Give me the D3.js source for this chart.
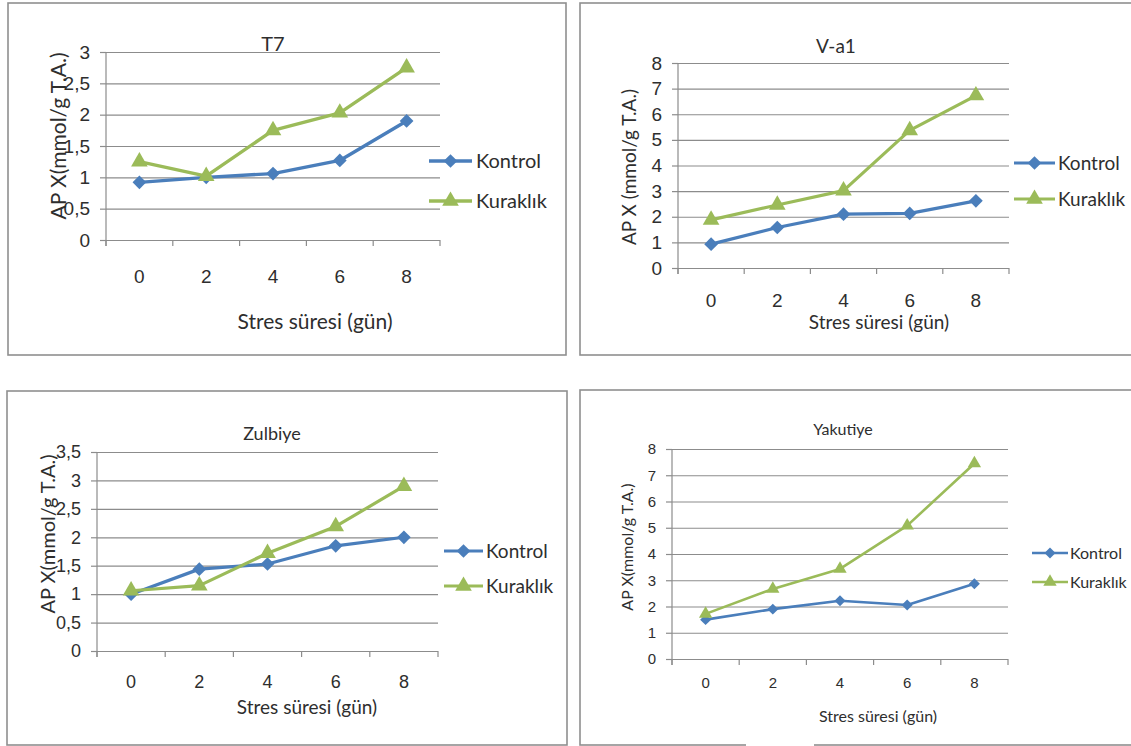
<!DOCTYPE html>
<html lang="tr">
<head>
<meta charset="utf-8">
<script src="https://d3js.org/d3.v7.min.js"></script>
<style>
  body { margin: 0; background: #fff; }
  svg { display: block; font-family: Lato, "Open Sans", sans-serif; }
  .grid line { stroke: #8c8c8c; stroke-width: 1.2; }
  .grid path { display: none; }
  .yax path, .xax path { display: none; }
  .yax line, .xtick { stroke: #8c8c8c; stroke-width: 1.2; }
  text { fill: #2e2e2e; }
</style>
</head>
<body>
<script>
// stres suresi (gun)
var days = ["0", "2", "4", "6", "8"];
var seriesNames = ["Kontrol", "Kuraklık"];

var t7Kontrol = [0.92, 1.0, 1.06, 1.27, 1.9];
var t7Kuraklik = [1.25, 1.02, 1.75, 2.03, 2.75];
var va1Kontrol = [0.93, 1.58, 2.1, 2.13, 2.62];
var va1Kuraklik = [1.88, 2.46, 3.02, 5.37, 6.73];
var zulbiyeKontrol = [1.0, 1.44, 1.53, 1.85, 2.0];
var zulbiyeKuraklik = [1.06, 1.15, 1.72, 2.19, 2.9];
var yakutiyeKontrol = [1.5, 1.9, 2.22, 2.06, 2.87];
var yakutiyeKuraklik = [1.72, 2.67, 3.43, 5.08, 7.45];

var titles = ["T7", "V-a1", "Zulbiye", "Yakutiye"];
var yLabels = ["AP X(mmol/g T.A.)", "AP X (mmol/g T.A.)", "AP X(mmol/g T.A.)", "AP X(mmol/g T.A.)"];
var yTicks05to3 = [0, 0.5, 1, 1.5, 2, 2.5, 3];
var yTicks05to35 = [0, 0.5, 1, 1.5, 2, 2.5, 3, 3.5];
var yTicks1to8 = [0, 1, 2, 3, 4, 5, 6, 7, 8];
var xTitle = "Stres süresi (gün)";

var colors = ["#4a7ebb", "#9bbb59"];

var charts = [
  { kontrol: t7Kontrol, kuraklik: t7Kuraklik, ticks: yTicks05to3 },
  { kontrol: va1Kontrol, kuraklik: va1Kuraklik, ticks: yTicks1to8 },
  { kontrol: zulbiyeKontrol, kuraklik: zulbiyeKuraklik, ticks: yTicks05to35 },
  { kontrol: yakutiyeKontrol, kuraklik: yakutiyeKuraklik, ticks: yTicks1to8 }
];

// where each panel sits on the page
var layout = [
  { box: [8, 3, 558, 352], plot: [106, 52, 440, 240], title: [273, 44, 20], tick: 19, xLabY: 276,
    xTitle: [315, 322, 21], yTitle: [59, 136, 21], legend: [429, 472, 476, 161, 201, 20], lw: 3.4, ms: 1 },
  { box: [580, 3, 560, 352], plot: [678, 63, 1009, 268], title: [836, 46, 19], tick: 19, xLabY: 300,
    xTitle: [879, 322, 19], yTitle: [629, 167, 19], legend: [1014, 1055, 1058, 163, 199, 19], lw: 3.2, ms: 1 },
  { box: [7, 391, 560, 354], plot: [97, 452, 438, 651], title: [272, 434, 18], tick: 18, xLabY: 682,
    xTitle: [307, 707, 19], yTitle: [48, 534, 20], legend: [444, 483, 486, 551, 586, 19], lw: 3.2, ms: 1 },
  { box: [580, 390, 560, 355], plot: [672, 449, 1008, 659], title: [843, 429, 16], tick: 15, xLabY: 683,
    xTitle: [878, 716, 16], yTitle: [627, 547, 16], legend: [1032, 1068, 1070, 553, 582, 16], lw: 2.6, ms: 0.8 }
];

var svg = d3.select("body").append("svg")
    .attr("width", 1131)
    .attr("height", 746);

var comma = function(v) { return String(v).replace(".", ","); };

function marker(i, scale) {
  if (i == 0) return d3.symbol().type(d3.symbolDiamond2).size(120 * scale * scale)();
  return d3.symbol().type(d3.symbolTriangle).size(120 * scale * scale)();
}

charts.forEach(function(c, k) {
  var L = layout[k];
  var g = svg.append("g");

  // panel frame
  g.append("rect")
    .attr("x", L.box[0]).attr("y", L.box[1])
    .attr("width", L.box[2]).attr("height", L.box[3])
    .attr("fill", "none").attr("stroke", "#8f8f8f").attr("stroke-width", 1.6);

  var x = d3.scaleBand().domain(days).range([L.plot[0], L.plot[2]]);
  var y = d3.scaleLinear().domain([0, d3.max(c.ticks)]).range([L.plot[3], L.plot[1]]);
  var w = L.plot[2] - L.plot[0];

  g.append("g").attr("class", "grid")
    .attr("transform", "translate(" + L.plot[0] + ",0)")
    .call(d3.axisLeft(y).tickValues(c.ticks).tickSize(-w).tickFormat(""));

  var ya = g.append("g").attr("class", "yax")
    .attr("transform", "translate(" + L.plot[0] + ",0)")
    .call(d3.axisLeft(y).tickValues(c.ticks).tickSize(6).tickPadding(10).tickFormat(comma));
  ya.selectAll("text").attr("font-size", L.tick).attr("font-family", null).attr("fill", "#2e2e2e");

  // vertical axis line
  g.append("line").attr("class", "xtick")
    .attr("x1", L.plot[0]).attr("x2", L.plot[0])
    .attr("y1", y.range()[1]).attr("y2", y.range()[0] + 6);

  var xa = g.append("g").attr("class", "xax")
    .attr("transform", "translate(0," + L.plot[3] + ")")
    .call(d3.axisBottom(x).tickSize(0));
  xa.selectAll("text")
    .attr("y", L.xLabY - L.plot[3]).attr("dy", "0.35em")
    .attr("font-size", L.tick).attr("font-family", null).attr("fill", "#2e2e2e");

  // tick marks on category boundaries
  var bounds = days.map(function(d) { return x(d); }).concat([x.range()[1]]);
  g.selectAll(".xtick.b").data(bounds).enter().append("line")
    .attr("class", "xtick b")
    .attr("x1", function(d) { return d; }).attr("x2", function(d) { return d; })
    .attr("y1", L.plot[3]).attr("y2", L.plot[3] + 6);

  // series
  [c.kontrol, c.kuraklik].forEach(function(vals, i) {
    var line = d3.line()
      .x(function(d, j) { return x(days[j]) + x.bandwidth() / 2; })
      .y(function(d) { return y(d); });
    g.append("path").datum(vals)
      .attr("d", line)
      .attr("fill", "none")
      .attr("stroke", colors[i])
      .attr("stroke-width", L.lw)
      .attr("stroke-linejoin", "round");
    g.selectAll(".m" + i).data(vals).enter().append("path")
      .attr("class", "m" + i)
      .attr("d", marker(i, L.ms))
      .attr("fill", colors[i])
      .attr("transform", function(d, j) {
        return "translate(" + (x(days[j]) + x.bandwidth() / 2) + "," + y(d) + ")";
      });
  });

  // titles
  g.append("text").attr("x", L.title[0]).attr("y", L.title[1]).attr("dy", "0.35em")
    .attr("text-anchor", "middle").attr("font-size", L.title[2]).text(titles[k]);
  g.append("text").attr("x", L.xTitle[0]).attr("y", L.xTitle[1]).attr("dy", "0.35em")
    .attr("text-anchor", "middle").attr("font-size", L.xTitle[2]).text(xTitle);
  g.append("text")
    .attr("transform", "translate(" + L.yTitle[0] + "," + L.yTitle[1] + ") rotate(-90)")
    .attr("dy", "0.35em")
    .attr("text-anchor", "middle").attr("font-size", L.yTitle[2]).text(yLabels[k]);

  // legend
  var lg = L.legend;
  seriesNames.forEach(function(name, i) {
    var ry = lg[3 + i];
    g.append("line").attr("x1", lg[0]).attr("x2", lg[1]).attr("y1", ry).attr("y2", ry)
      .attr("stroke", colors[i]).attr("stroke-width", L.lw);
    g.append("path").attr("d", marker(i, L.ms)).attr("fill", colors[i])
      .attr("transform", "translate(" + ((lg[0] + lg[1]) / 2) + "," + ry + ")");
    g.append("text").attr("x", lg[2]).attr("y", ry).attr("dy", "0.35em")
      .attr("font-size", lg[5]).text(name);
  });
});

// gap in the last frame's bottom edge, as in the scan
svg.append("line").attr("x1", 746).attr("x2", 814).attr("y1", 745).attr("y2", 745)
  .attr("stroke", "#fff").attr("stroke-width", 4);
</script>
</body>
</html>
